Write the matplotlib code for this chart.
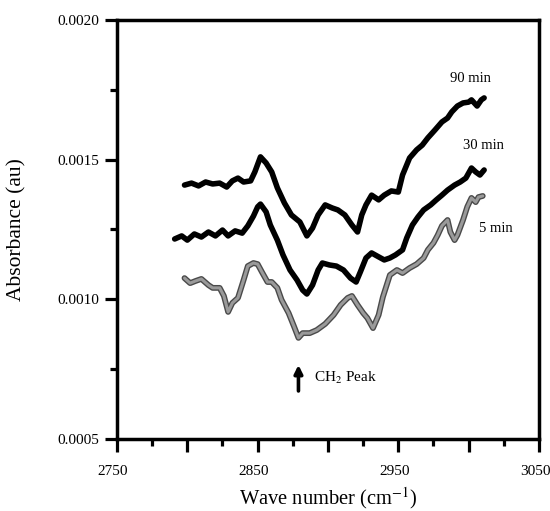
import matplotlib
matplotlib.use('Agg')
import matplotlib.pyplot as plt
import matplotlib.transforms as mtransforms
from matplotlib.ticker import MultipleLocator, FuncFormatter

# spectra (wave number, absorbance)
x_90 = [2798, 2803, 2808, 2813, 2818, 2823, 2828, 2832, 2836, 2840,
        2845, 2848, 2852, 2856, 2860, 2864, 2869, 2874, 2880, 2885,
        2889, 2893, 2898, 2903, 2907, 2912, 2917, 2921, 2924, 2927,
        2931, 2936, 2940, 2945, 2950, 2953, 2958, 2963, 2967, 2971,
        2976, 2981, 2985, 2988, 2992, 2996, 3000, 3002, 3006, 3009, 3011]
y_90 = [0.001409, 0.001416, 0.001406, 0.001420, 0.001413, 0.001416, 0.001402, 0.001424, 0.001434, 0.001420,
        0.001424, 0.001456, 0.001510, 0.001488, 0.001456, 0.001399, 0.001345, 0.001302, 0.001277, 0.001227,
        0.001255, 0.001302, 0.001338, 0.001327, 0.001320, 0.001302, 0.001266, 0.001241, 0.001302, 0.001338,
        0.001373, 0.001356, 0.001373, 0.001388, 0.001384, 0.001445, 0.001506, 0.001535, 0.001552, 0.001578,
        0.001606, 0.001635, 0.001649, 0.001671, 0.001692, 0.001703, 0.001706, 0.001714, 0.001692, 0.001714, 0.001721]

x_30 = [2791, 2796, 2800, 2805, 2810, 2815, 2820, 2825, 2829, 2834,
        2839, 2843, 2847, 2850, 2852, 2856, 2859, 2864, 2868, 2873,
        2878, 2882, 2885, 2889, 2893, 2896, 2901, 2906, 2911, 2916,
        2920, 2923, 2927, 2931, 2936, 2940, 2944, 2948, 2953, 2956,
        2960, 2964, 2968, 2973, 2977, 2981, 2985, 2990, 2994, 2998,
        3002, 3005, 3008, 3011]
y_30 = [0.001216, 0.001227, 0.001212, 0.001234, 0.001223, 0.001241, 0.001227, 0.001248, 0.001227, 0.001245,
        0.001237, 0.001263, 0.001298, 0.001331, 0.001341, 0.001313, 0.001266, 0.001212, 0.001159, 0.001105,
        0.001069, 0.001033, 0.001019, 0.001051, 0.001105, 0.001130, 0.001123, 0.001119, 0.001105, 0.001076,
        0.001062, 0.001098, 0.001148, 0.001166, 0.001152, 0.001141, 0.001148, 0.001159, 0.001177, 0.001220,
        0.001266, 0.001295, 0.001320, 0.001338, 0.001356, 0.001373, 0.001391, 0.001409, 0.001420, 0.001434,
        0.001470, 0.001456, 0.001445, 0.001463]

x_5 = [2798, 2802, 2806, 2810, 2815, 2818, 2823, 2826, 2829, 2832,
       2836, 2840, 2843, 2847, 2850, 2853, 2857, 2860, 2864, 2867,
       2872, 2876, 2879, 2882, 2887, 2892, 2898, 2904, 2909, 2914,
       2917, 2921, 2925, 2928, 2932, 2936, 2939, 2944, 2949, 2953,
       2958, 2963, 2968, 2971, 2975, 2978, 2981, 2985, 2987, 2990,
       2992, 2996, 2999, 3002, 3005, 3007, 3010]
y_5 = [0.001076, 0.001058, 0.001066, 0.001073, 0.001051, 0.001041, 0.001041, 0.001012, 0.000955, 0.000987,
       0.001005, 0.001069, 0.001119, 0.001130, 0.001126, 0.001098, 0.001062, 0.001062, 0.001041, 0.000998,
       0.000951, 0.000901, 0.000862, 0.000879, 0.000879, 0.000890, 0.000912, 0.000944, 0.000980, 0.001005,
       0.001012, 0.000980, 0.000951, 0.000933, 0.000897, 0.000944, 0.001008, 0.001087, 0.001105, 0.001094,
       0.001112, 0.001126, 0.001148, 0.001177, 0.001202, 0.001230, 0.001263, 0.001284, 0.001241, 0.001212,
       0.001230, 0.001284, 0.001331, 0.001363, 0.001348, 0.001366, 0.001370]

labels = ['90 min', '30 min', '5 min']

plt.rcParams['font.family'] = ['Liberation Serif', 'DejaVu Serif']
plt.rcParams['mathtext.fontset'] = 'stix'

fig = plt.figure(figsize=(5.5, 5.11), dpi=100)
ax = fig.add_axes([0.2127, 0.1409, 0.7673, 0.8200])

ax.plot(x_90, y_90, color='black', lw=4.0, solid_joinstyle='round', solid_capstyle='round')
ax.plot(x_30, y_30, color='black', lw=4.0, solid_joinstyle='round', solid_capstyle='round')
# halftone-looking grey trace
ax.plot(x_5, y_5, color='#4a4a4a', lw=4.2, solid_joinstyle='round', solid_capstyle='round')
ax.plot(x_5, y_5, color='#9a9a9a', lw=2.2, solid_joinstyle='round', solid_capstyle='round')

ax.text(2987, 0.001792, labels[0], fontsize=10.5, va='center')
ax.text(2996, 0.001549, labels[1], fontsize=10.5, va='center')
ax.text(3007, 0.001255, labels[2], fontsize=10.5, va='center')

ax.annotate('', xy=(2879, 0.000775), xytext=(2879, 0.000662),
            arrowprops=dict(arrowstyle='-|>', lw=2.6, color='black', mutation_scale=12))
ax.text(2890, 0.000718, r'CH$_2$ Peak', fontsize=11, va='center')

ax.set_xlim(2750, 3050)
ax.set_ylim(0.0005, 0.0020)

ax.xaxis.set_major_locator(MultipleLocator(50))
ax.xaxis.set_minor_locator(MultipleLocator(25))
ax.xaxis.set_major_formatter(FuncFormatter(lambda v, p: '%d' % v if int(round(v - 2750)) % 100 == 0 else ''))
ax.yaxis.set_major_locator(MultipleLocator(0.0005))
ax.yaxis.set_minor_locator(MultipleLocator(0.00025))
ax.yaxis.set_major_formatter(FuncFormatter(lambda v, p: '%.4f' % v))

ax.tick_params(axis='both', which='major', direction='out', length=9, width=2.3, labelsize=11)
ax.tick_params(axis='both', which='minor', direction='out', length=5, width=2.3)
ax.tick_params(axis='x', which='major', pad=10)
ax.tick_params(axis='y', which='major', pad=4)

# nudge x tick labels a little left, as in the scan
shift = mtransforms.ScaledTranslation(-4 / 100, 0, fig.dpi_scale_trans)
for lab in ax.get_xticklabels():
    lab.set_transform(lab.get_transform() + shift)

for sp in ax.spines.values():
    sp.set_linewidth(2.5)

ax.set_xlabel(r'Wave number (cm$^{-1}$)', fontsize=14.8)
ax.set_ylabel('Absorbance (au)', fontsize=15.5)
ax.yaxis.set_label_coords(-0.215, 0.5)
ax.xaxis.set_label_coords(0.5, -0.11)

fig.savefig('out.png', dpi=100)
